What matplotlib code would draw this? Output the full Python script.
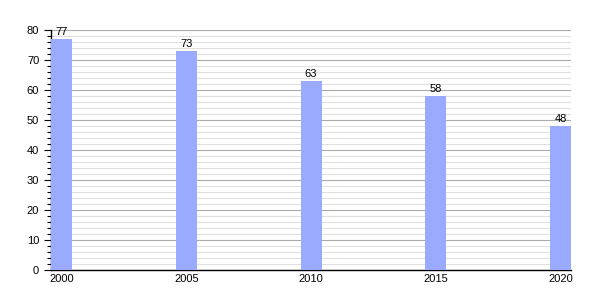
import matplotlib.pyplot as plt
from matplotlib.ticker import MultipleLocator

plt.rcParams["font.family"] = ["Liberation Sans", "DejaVu Sans"]

# Data
years = [2000, 2005, 2010, 2015, 2020]
values = [77, 73, 63, 58, 48]

bar_width = 0.84
bar_color = "#99aaff"

fig = plt.figure(figsize=(6, 3), dpi=100)
ax = fig.add_axes([0.085, 0.1, 0.867, 0.8])

ax.bar(years, values, width=bar_width, align="edge", color=bar_color, zorder=3)

for x, v in zip(years, values):
    ax.text(x + bar_width / 2, v + 0.8, str(v), ha="center", va="bottom", fontsize=8, zorder=4)

ax.set_xlim(2000, 2020 + bar_width)
ax.set_ylim(0, 80)

ax.set_xticks([y + bar_width / 2 for y in years])
ax.set_xticklabels([str(y) for y in years], fontsize=8)
ax.yaxis.set_major_locator(MultipleLocator(10))
ax.yaxis.set_minor_locator(MultipleLocator(2))
ax.tick_params(axis="y", labelsize=8, length=5, width=0.8)
ax.tick_params(axis="y", which="minor", length=3, width=0.8)
ax.tick_params(axis="x", length=0, pad=3)

ax.grid(axis="y", which="major", color="#aaaaaa", linewidth=0.8, zorder=0)
ax.grid(axis="y", which="minor", color="#e0e0e0", linewidth=0.8, zorder=0)
ax.set_axisbelow(True)

for s in ["top", "right"]:
    ax.spines[s].set_visible(False)
ax.spines["left"].set_linewidth(1)
ax.spines["bottom"].set_linewidth(1)

fig.savefig("out.png", dpi=100)
